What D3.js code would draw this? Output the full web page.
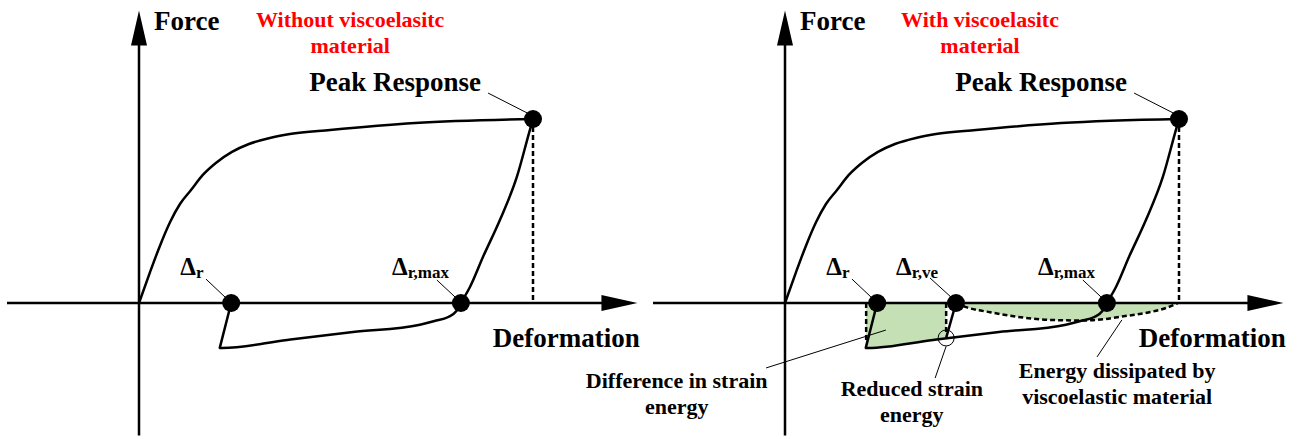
<!DOCTYPE html>
<html>
<head>
<meta charset="utf-8">
<script src="https://cdn.jsdelivr.net/npm/d3@7"></script>
<style>
  body { margin: 0; background: #fff; }
  svg text { font-family: "Liberation Serif", "Times New Roman", serif; font-weight: bold; }
</style>
</head>
<body>
<svg id="chart" width="1301" height="439"></svg>
<script>
// hysteresis loop (deformation, force) in arbitrary units, peak = (10, 10)
const loadingCurve = [[0,0],[0.28,1.68],[0.53,3.10],[0.79,4.40],[1.04,5.38],[1.32,6.14],[1.62,6.96],[1.95,7.61],[2.36,8.21],[2.79,8.64],[3.32,8.97],[3.83,9.18],[4.85,9.40],[7.01,9.78],[10,10]]
const unloadingCurve = [[10,10],[9.92,9.40],[9.59,6.85],[9.16,4.51],[8.73,2.50],[8.40,0.87],[8.17,0],[8.05,-0.45],[7.85,-0.76],[7.50,-0.98],[7.13,-1.18],[5.43,-1.58],[3.76,-2.01],[2.11,-2.45],[2.05,-2.44]]
const residualRise = [[2.05,-2.44],[2.34,0]]
const veRise = [[4.09,-1.90],[4.34,0]]

// green areas (right panel)
const strainDiffArea = [[2.06,0],[4.09,0],[4.09,-1.90],[3.76,-2.01],[2.11,-2.45],[2.05,-2.44]]
const dissipationEdge = [[4.34,0],[4.62,-0.24],[5.2,-0.5],[5.9,-0.75],[6.7,-0.92],[7.5,-0.95],[8.1,-0.88],[8.5,-0.75],[9.0,-0.6],[9.3,-0.48],[9.7,-0.25],[9.97,0]]

// key points
const peakPoint = [10, 10]
const residualPoints = [
  { x: 2.34, sub: 'r', lx: 1.05, leader: [[1.70,1.30],[2.21,0.27]] },
  { x: 8.17, sub: 'r,max', lx: 6.42, leader: [[7.56,1.25],[8.02,0.33]] }
]
const vePoint = { x: 4.34, sub: 'r,ve', lx: 2.82, leader: [[3.68,1.36],[4.24,0.27]] }

const panelOffsets = [0, 646]
const panelTitles = [['Without viscoelasitc', 'material'], ['With viscoelasitc', 'material']]
const titleX = [5.36, 4.95]

const notes = [
  { lines: ['Difference in strain', 'energy'], x: -2.75, y: -4.6, leader: [[-0.48,-3.53],[2.56,-1.47]] },
  { lines: ['Reduced strain', 'energy'], x: 3.22, y: -5.08, leader: [[4.09,-2.35],[3.81,-4.08]] },
  { lines: ['Energy dissipated by', 'viscoelastic material'], x: 8.43, y: -4.08, leader: [[8.55,-0.92],[7.92,-2.93]] }
]

const xExtent = [-3.35, 12.65]
const yExtent = [-7.2, 15.9]

const x = d3.scaleLinear().domain([0, 10]).range([139, 533])
const y = d3.scaleLinear().domain([0, 10]).range([303, 119])

const svg = d3.select('#chart')
// monotone in x: draw with points sorted by deformation
const smooth = d3.line().x(d => x(d[0])).y(d => y(d[1])).curve(d3.curveMonotoneX)
const curve = pts => smooth(pts.slice().sort((a, b) => a[0] - b[0]))
const straight = d3.line().x(d => x(d[0])).y(d => y(d[1]))
const dashed = sel => sel.attr('fill', 'none').attr('stroke', '#000').attr('stroke-width', 2.5).attr('stroke-dasharray', '5,3')

panelOffsets.forEach((off, i) => {
  const g = svg.append('g').attr('transform', `translate(${off},0)`)
  const withVE = i === 1

  if (withVE) {
    g.append('path').attr('d', straight(strainDiffArea) + 'Z').attr('fill', '#c5e0b4')
    const area = d3.area().x(d => x(d[0])).y0(y(0)).y1(d => y(d[1])).curve(d3.curveMonotoneX)
    g.append('path').attr('d', area(dissipationEdge)).attr('fill', '#c5e0b4')
    g.append('path').attr('d', curve(dissipationEdge)).call(dashed)
    g.append('path').attr('d', straight([[2.06,0],[2.06,-2.05]])).call(dashed)
    g.append('path').attr('d', straight([[4.09,0],[4.09,-1.6]])).call(dashed)
  }

  // axes
  g.append('line').attr('x1', x(xExtent[0])).attr('x2', x(xExtent[1]) - 30)
    .attr('y1', y(0)).attr('y2', y(0)).attr('stroke', '#000').attr('stroke-width', 2.5)
  g.append('path')
    .attr('d', `M${x(xExtent[1])},${y(0)}L${x(xExtent[1]) - 36},${y(0) - 8}L${x(xExtent[1]) - 36},${y(0) + 8}Z`)
  g.append('line').attr('x1', x(0)).attr('x2', x(0))
    .attr('y1', y(yExtent[0])).attr('y2', y(yExtent[1]) + 30).attr('stroke', '#000').attr('stroke-width', 2.5)
  g.append('path')
    .attr('d', `M${x(0)},${y(yExtent[1])}L${x(0) - 8},${y(yExtent[1]) + 35}L${x(0) + 8},${y(yExtent[1]) + 35}Z`)

  // dashed drop from peak
  g.append('path').attr('d', straight([[peakPoint[0], peakPoint[1]], [peakPoint[0], 0]])).call(dashed)

  // loop
  ;[loadingCurve, unloadingCurve].forEach(c => {
    g.append('path').attr('d', curve(c)).attr('fill', 'none').attr('stroke', '#000')
      .attr('stroke-width', 2.5).attr('stroke-linejoin', 'round')
  })
  g.append('path').attr('d', straight(residualRise)).attr('fill', 'none').attr('stroke', '#000')
    .attr('stroke-width', 2.5).attr('stroke-linecap', 'round')

  const pts = withVE ? residualPoints.concat([vePoint]) : residualPoints
  if (withVE) {
    g.append('path').attr('d', straight(veRise)).attr('fill', 'none').attr('stroke', '#000').attr('stroke-width', 2.5)
    g.append('circle').attr('cx', x(veRise[0][0])).attr('cy', y(veRise[0][1])).attr('r', 8)
      .attr('fill', 'none').attr('stroke', '#000').attr('stroke-width', 1)
  }

  // residual markers + labels
  pts.forEach(p => {
    g.append('path').attr('d', straight(p.leader)).attr('stroke', '#000').attr('stroke-width', 1)
    g.append('circle').attr('cx', x(p.x)).attr('cy', y(0)).attr('r', 9).attr('fill', '#000')
    const t = g.append('text').attr('x', x(p.lx)).attr('y', y(1.52)).attr('font-size', 25)
    t.append('tspan').text('Δ')
    t.append('tspan').attr('font-size', 17).attr('dy', 3).text(p.sub)
  })

  // peak
  g.append('path').attr('d', straight([[8.86,11.41],[9.85,10.33]])).attr('stroke', '#000').attr('stroke-width', 1)
  g.append('circle').attr('cx', x(peakPoint[0])).attr('cy', y(peakPoint[1])).attr('r', 9).attr('fill', '#000')
  g.append('text').attr('x', x(4.32)).attr('y', y(11.52)).attr('font-size', 27).text('Peak Response')

  // axis titles
  g.append('text').attr('x', x(0.38)).attr('y', y(14.84)).attr('font-size', 27).text('Force')
  g.append('text').attr('x', x(8.98)).attr('y', y(-2.39)).attr('font-size', 27).text('Deformation')

  // red panel title
  panelTitles[i].forEach((line, k) => {
    g.append('text').attr('x', x(titleX[i])).attr('y', k === 0 ? 27 : 53)
      .attr('text-anchor', 'middle').attr('font-size', 22).attr('fill', '#ff0000').text(line)
  })

  if (withVE) {
    notes.forEach(n => {
      g.append('path').attr('d', straight(n.leader)).attr('stroke', '#000').attr('stroke-width', 1)
      n.lines.forEach((line, k) => {
        g.append('text').attr('x', x(n.x)).attr('y', y(n.y) + k * 26)
          .attr('text-anchor', 'middle').attr('font-size', 22).text(line)
      })
    })
  }
})
</script>
</body>
</html>
